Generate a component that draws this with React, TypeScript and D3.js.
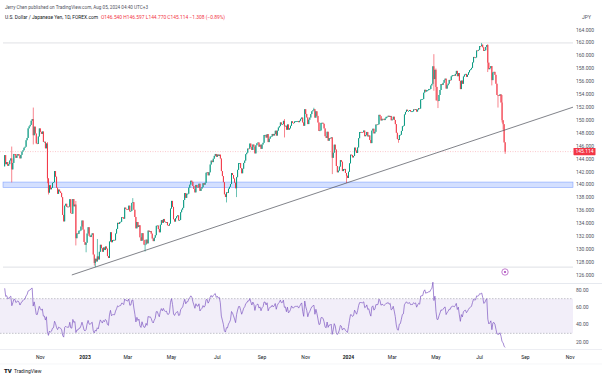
import React, { useMemo } from "react";
import * as d3 from "d3";

// ---------- DATA (USD/JPY daily) ----------
// closes used only to warm up the RSI (Aug 15 – Sep 12, 2022), not drawn as candles
const warmupCloses = [
  133.31, 134.24, 135.08, 135.89, 137.0, 137.48, 136.75, 137.16, 136.51, 137.15, 138.72, 138.75, 138.96,
  139.66, 140.2, 140.52, 142.77, 143.81, 144.08, 142.57, 142.83,
];

// daily closes, Sep 13 2022 – Dec 30 2022
const closes2022 = [
  // Sep
  144.57, 143.17, 143.49, 142.92, 143.17, 143.73, 144.06, 142.36, 143.36, 144.75, 144.74, 144.15, 144.47, 144.74,
  // Oct
  144.54, 144.07, 144.61, 145.12, 145.33, 145.72, 145.87, 146.88, 147.23, 148.72, 149.03, 149.26, 149.9, 150.16,
  147.65, 148.98, 147.91, 146.38, 146.31, 147.46, 148.7,
  // Nov
  148.18, 147.86, 148.23, 146.62, 146.64, 145.63, 146.38, 140.97, 138.76, 139.9, 139.28, 139.52, 140.28, 140.38,
  142.1, 141.23, 139.52, 138.58, 139.23, 138.95, 138.72, 138.06,
  // Dec
  135.31, 134.31, 136.74, 137.03, 136.56, 136.59, 136.58, 137.74, 135.58, 135.5, 137.77, 136.64, 136.91, 131.7,
  132.44, 132.38, 132.86, 132.89, 133.51, 134.44, 133.03, 131.12,
];

const closes2023 = [
  // Jan
  130.68, 131.0, 132.43, 133.4, 132.08, 131.88, 132.23, 132.46, 129.17, 127.87, 128.52, 128.1, 128.88, 128.41,
  129.6, 130.68, 130.15, 129.61, 130.26, 129.87, 130.41, 130.09,
  // Feb
  128.93, 128.64, 131.19, 132.62, 131.08, 131.42, 131.44, 131.38, 132.42, 133.14, 134.08, 133.92, 134.18, 134.24,
  134.95, 134.92, 134.72, 136.44, 136.24, 136.2,
  // Mar
  136.13, 136.74, 135.85, 135.92, 137.17, 137.28, 136.11, 134.99, 133.23, 134.21, 133.43, 133.71, 131.84, 131.3,
  132.48, 131.44, 130.7, 130.73, 131.48, 130.9, 132.88, 132.69, 132.81,
  // Apr
  132.41, 131.65, 131.25, 131.78, 132.17, 133.62, 133.66, 133.11, 132.62, 133.79, 134.5, 134.09, 134.68, 134.25,
  134.14, 134.21, 133.71, 133.66, 133.96, 136.29,
  // May
  137.48, 136.55, 134.64, 134.28, 134.8, 135.09, 135.24, 134.45, 134.53, 135.72, 136.12, 136.4, 137.62, 138.7,
  137.95, 138.59, 138.59, 139.53, 139.99, 140.61, 140.43, 139.79, 139.32,
  // Jun
  138.8, 139.95, 139.61, 139.57, 140.14, 139.03, 139.38, 139.61, 140.22, 139.99, 140.29, 141.84, 141.93, 141.44,
  141.91, 143.12, 143.72, 143.49, 144.02, 144.45, 144.75, 144.31,
  // Jul
  144.66, 144.45, 144.64, 144.04, 142.1, 141.32, 140.38, 138.5, 138.08, 138.8, 138.73, 139.37, 139.67, 140.09,
  141.8, 141.49, 140.94, 140.3, 139.44, 141.15, 142.29,
  // Aug
  143.33, 143.34, 142.56, 141.76, 142.46, 143.36, 143.72, 144.71, 144.94, 145.58, 145.56, 146.36, 145.84, 145.37,
  146.21, 145.89, 144.84, 146.1, 146.41, 146.53, 145.88, 146.18, 145.54,
  // Sep
  146.22, 146.48, 147.69, 147.7, 147.29, 147.83, 146.59, 147.12, 147.44, 147.47, 147.85, 147.61, 147.86, 148.35,
  147.6, 148.37, 148.85, 149.06, 149.63, 149.33, 149.37,
  // Oct
  149.88, 149.04, 149.12, 148.51, 149.32, 148.52, 148.72, 149.12, 149.8, 149.57, 149.54, 149.78, 149.82, 149.82,
  149.86, 149.68, 149.9, 150.2, 150.39, 149.64, 149.12, 151.68,
  // Nov
  150.95, 150.41, 149.38, 150.05, 150.39, 150.93, 151.36, 151.51, 151.68, 150.38, 151.36, 150.65, 149.63, 148.31,
  148.39, 149.56, 149.58, 149.43, 148.71, 147.5, 147.24, 148.19,
  // Dec
  146.8, 147.21, 147.17, 147.33, 144.16, 144.95, 146.19, 145.43, 142.89, 141.91, 142.17, 142.8, 143.8, 143.55,
  142.1, 142.42, 142.43, 141.8, 141.38, 141.03,
];

const closes2024 = [
  // Jan
  142.0, 143.3, 144.64, 144.6, 144.22, 144.44, 145.73, 145.29, 144.9, 145.76, 147.19, 148.15, 148.16, 148.14,
  148.12, 148.38, 147.5, 147.67, 148.16, 147.47, 147.62, 146.91,
  // Feb
  146.43, 148.37, 148.66, 147.94, 148.18, 149.31, 149.28, 149.35, 150.81, 150.6, 149.94, 150.19, 150.14, 150.0,
  150.27, 150.5, 150.51, 150.67, 150.49, 150.64, 149.97,
  // Mar
  150.1, 150.52, 150.02, 149.37, 148.03, 147.06, 146.92, 147.67, 147.73, 148.32, 149.04, 149.13, 150.87, 151.26,
  151.6, 151.42, 151.42, 151.55, 151.33, 151.35, 151.35,
  // Apr
  151.65, 151.57, 151.67, 151.32, 151.62, 151.85, 151.78, 153.17, 153.23, 153.27, 154.24, 154.69, 154.42, 154.64,
  154.64, 154.82, 154.82, 155.36, 155.61, 158.33, 156.35, 157.78,
  // May
  155.14, 153.03, 152.96, 153.89, 154.66, 155.58, 155.45, 155.77, 156.2, 156.42, 154.88, 155.4, 155.65, 156.22,
  156.18, 156.78, 156.95, 156.96, 156.87, 157.15, 157.62, 156.8, 157.28,
  // Jun
  156.08, 154.8, 156.12, 155.63, 156.75, 157.05, 157.15, 156.7, 157.02, 157.4, 157.73, 157.86, 158.09, 158.93,
  159.78, 159.68, 159.7, 160.78, 160.75, 160.88,
  // Jul
  161.47, 161.45, 161.68, 161.28, 160.7, 160.82, 161.33, 161.63, 158.9, 157.88, 158.06, 158.37, 156.19, 157.38,
  157.47, 157.01, 155.63, 153.89, 153.84, 153.77, 153.99, 152.72, 149.98,
  // Aug
  149.36, 146.54, 145.114,
];

// notable wicks (high / low)
const wickDates = [
  "2022-09-22", "2022-10-21", "2022-11-10", "2022-11-11", "2022-12-20", "2023-01-03", "2023-01-13", "2023-01-16",
  "2023-01-18", "2023-03-08", "2023-03-24", "2023-07-14", "2023-07-28", "2023-10-03", "2023-11-13", "2023-12-07",
  "2023-12-28", "2024-03-11", "2024-04-29", "2024-05-01", "2024-05-03", "2024-07-03", "2024-07-11", "2024-07-17",
  "2024-07-25", "2024-07-31", "2024-08-01", "2024-08-05",
];
const wickHighs = [
  145.9, 151.94, 146.59, null, 137.47, null, null, null, 131.58, 137.91, null, null, 141.2, 150.16, 151.91, null,
  null, null, 160.21, 157.99, null, 161.95, 161.76, null, null, 153.88, null, 146.597,
];
const wickLows = [
  140.35, 146.23, 140.22, 138.47, 130.58, 129.52, 127.46, 127.22, null, null, 129.64, 137.24, 138.07, 147.31, null,
  141.63, 140.25, 146.49, 154.54, 153.04, 151.86, null, 157.44, 155.37, 151.94, 149.62, 148.51, 144.77,
];

const priceTicks = [164, 162, 160, 158, 156, 154, 152, 150, 148, 146, 144, 142, 140, 138, 136, 134, 132, 130, 128, 126];
const rsiTicks = [80, 60, 40, 20];
const rsiBands = [70, 30];
const timeTickDates = [
  "2022-11-01", "2023-01-02", "2023-03-01", "2023-05-01", "2023-07-03", "2023-09-01", "2023-11-01",
  "2024-01-02", "2024-03-01", "2024-05-01", "2024-07-01", "2024-09-02", "2024-11-01",
];
const timeTickLabels = ["Nov", "2023", "Mar", "May", "Jul", "Sep", "Nov", "2024", "Mar", "May", "Jul", "Sep", "Nov"];

const zonePrices = [140.4, 139.55];
const levelLines = [161.95, 127.22];
const trendAnchorDates = ["2023-01-16", "2023-12-28"];
const trendAnchorPrices = [127.22, 140.25];
const trendStartDate = "2022-12-14";

const headerLine1 = "Jerry Chen published on TradingView.com, Aug 05, 2024 04:40 UTC+3";
const headerSymbol = "U.S. Dollar / Japanese Yen, 1D, FOREX.com";
const headerOHLC = "O146.540 H146.597 L144.770 C145.114 \u22121.308 (\u22120.89%)";
const lastPriceLabel = "145.114";

// ---------- LAYOUT ----------
const W = 602;
const H = 378;
const PLOT_R = 573;
const FONT = "Roboto, 'Liberation Sans', Arial, sans-serif";
const UP = "#089981";
const DOWN = "#f23645";

function wilderRsi(values: number[], period = 14): (number | null)[] {
  const out: (number | null)[] = values.map(() => null);
  let g = 0;
  let l = 0;
  for (let i = 1; i <= period; i++) {
    const ch = values[i] - values[i - 1];
    if (ch > 0) g += ch;
    else l -= ch;
  }
  g /= period;
  l /= period;
  out[period] = l === 0 ? 100 : 100 - 100 / (1 + g / l);
  for (let i = period + 1; i < values.length; i++) {
    const ch = values[i] - values[i - 1];
    g = (g * (period - 1) + Math.max(ch, 0)) / period;
    l = (l * (period - 1) + Math.max(-ch, 0)) / period;
    out[i] = l === 0 ? 100 : 100 - 100 / (1 + g / l);
  }
  return out;
}

export default function App() {
  const m = useMemo(() => {
    const fmt = d3.utcFormat("%Y-%m-%d");
    const cal: string[] = [];
    const end = new Date(Date.UTC(2024, 10, 29));
    for (let d = new Date(Date.UTC(2022, 8, 13)); d <= end; d = d3.utcDay.offset(d, 1)) {
      const dow = d.getUTCDay();
      if (dow === 0 || dow === 6) continue;
      const mo = d.getUTCMonth();
      const dd = d.getUTCDate();
      if ((mo === 11 && dd === 25) || (mo === 0 && dd === 1)) continue;
      cal.push(fmt(d));
    }
    const idx = new Map<string, number>();
    cal.forEach((s, i) => idx.set(s, i));

    const closes = [...closes2022, ...closes2023, ...closes2024];
    const wmap = new Map<string, [number | null, number | null]>();
    wickDates.forEach((d, i) => wmap.set(d, [wickHighs[i], wickLows[i]]));

    const candles = closes.map((c, i) => {
      const o = i === 0 ? warmupCloses[warmupCloses.length - 1] : closes[i - 1];
      const w = wmap.get(cal[i]);
      let h = Math.max(o, c);
      let l = Math.min(o, c);
      if (w) {
        if (w[0] != null) h = Math.max(h, w[0]);
        if (w[1] != null) l = Math.min(l, w[1]);
      }
      return { i, o, c, h, l };
    });

    const all = [...warmupCloses, ...closes];
    const rsiAll = wilderRsi(all);
    const rsi = closes.map((_, i) => rsiAll[i + warmupCloses.length] as number);

    const x = d3.scaleLinear().domain([0, 556]).range([4.7, 570.2]);
    const y = d3.scaleLinear().domain([126, 164]).range([275, 29.7]);
    const ry = d3.scaleLinear().domain([20, 80]).range([342, 290]);

    return { cal, idx, candles, rsi, x, y, ry };
  }, []);

  const { idx, candles, rsi, x, y, ry } = m;

  const rsiPath = d3
    .line<number>()
    .x((_, i) => x(i))
    .y((v) => ry(v))(rsi) as string;

  // trendline
  const ta = idx.get(trendAnchorDates[0])!;
  const tb = idx.get(trendAnchorDates[1])!;
  const slope = (trendAnchorPrices[1] - trendAnchorPrices[0]) / (tb - ta);
  const ts = idx.get(trendStartDate)!;
  const tEnd = x.invert(PLOT_R);
  const tPrice = (i: number) => trendAnchorPrices[0] + (i - ta) * slope;

  const lastClose = closes2024[closes2024.length - 1];
  const lastY = y(lastClose);

  return (
    <svg
      width={W}
      height={H}
      style={{ position: "fixed", left: 0, top: 0, background: "#fff" }}
      fontFamily={FONT}
    >
      <rect x={0} y={0} width={W} height={H} fill="#fff" />

      {/* header */}
      <text x={5} y={8.5} fontSize={5.2} fill="#50535e" textLength={143} lengthAdjust="spacingAndGlyphs">
        {headerLine1}
      </text>
      <text x={5} y={18.5} fontSize={5.2} fill="#131722" textLength={93} lengthAdjust="spacingAndGlyphs">
        {headerSymbol}
      </text>
      <text x={101} y={18.5} fontSize={5.2} fill={DOWN} textLength={124} lengthAdjust="spacingAndGlyphs">
        {headerOHLC}
      </text>
      <text x={582} y={18.5} fontSize={5} fill="#50535e">
        JPY
      </text>

      {/* pane separators */}
      <line x1={0} x2={W} y1={283.5} y2={283.5} stroke="#e0e3eb" strokeWidth={0.8} />
      <line x1={0} x2={W} y1={349.5} y2={349.5} stroke="#e0e3eb" strokeWidth={0.6} />
      <line x1={0} x2={W} y1={364} y2={364} stroke="#eef0f4" strokeWidth={0.6} />

      {/* horizontal levels */}
      {levelLines.map((p) => (
        <line key={p} x1={3} x2={PLOT_R} y1={y(p)} y2={y(p)} stroke="#c9ccd4" strokeWidth={0.6} />
      ))}

      {/* support zone */}
      <rect
        x={3}
        width={PLOT_R - 3}
        y={y(zonePrices[0])}
        height={y(zonePrices[1]) - y(zonePrices[0])}
        fill="rgba(41,98,255,0.2)"
        stroke="rgba(41,98,255,0.5)"
        strokeWidth={0.6}
      />

      {/* last price line */}
      <line x1={0} x2={PLOT_R} y1={lastY} y2={lastY} stroke={DOWN} strokeOpacity={0.55} strokeWidth={0.5} strokeDasharray="1,1.5" />

      {/* candles */}
      {candles.map((d) => {
        const col = d.c >= d.o ? UP : DOWN;
        const cx = x(d.i);
        const top = y(Math.max(d.o, d.c));
        const bot = y(Math.min(d.o, d.c));
        return (
          <g key={d.i}>
            <rect x={cx - 0.3} width={0.6} y={y(d.h)} height={Math.max(0.5, y(d.l) - y(d.h))} fill={col} />
            <rect x={cx - 0.5} width={1.0} y={top} height={Math.max(0.7, bot - top)} fill={col} />
          </g>
        );
      })}

      {/* trendline */}
      <line
        x1={x(ts)}
        y1={y(tPrice(ts))}
        x2={x(tEnd)}
        y2={y(tPrice(tEnd))}
        stroke="#4a4d57"
        strokeWidth={0.7}
      />

      {/* event marker */}
      <circle cx={505} cy={272} r={3.2} fill="#fff" stroke="#ab47bc" strokeWidth={0.7} />
      <circle cx={505} cy={272} r={1.1} fill="#ab47bc" />

      {/* price axis */}
      {priceTicks.map((p) => (
        <text key={p} x={576} y={y(p) + 1.8} fontSize={5} fill="#50535e">
          {p.toFixed(3)}
        </text>
      ))}
      <rect x={573.5} y={lastY - 3.6} width={22} height={7.2} fill={DOWN} rx={0.6} />
      <text x={584.5} y={lastY + 1.8} fontSize={5} fill="#fff" textAnchor="middle">
        {lastPriceLabel}
      </text>

      {/* RSI pane */}
      <rect x={0} width={PLOT_R} y={ry(rsiBands[0])} height={ry(rsiBands[1]) - ry(rsiBands[0])} fill="rgba(126,87,194,0.1)" />
      {rsiBands.map((b) => (
        <line key={b} x1={0} x2={PLOT_R} y1={ry(b)} y2={ry(b)} stroke="#8a8d99" strokeWidth={0.5} strokeDasharray="1.5,1.5" />
      ))}
      <path d={rsiPath} fill="none" stroke="#7e57c2" strokeWidth={0.7} />
      {rsiTicks.map((t) => (
        <text key={t} x={576} y={ry(t) + 1.8} fontSize={5} fill="#50535e">
          {t.toFixed(2)}
        </text>
      ))}

      {/* time axis */}
      {timeTickDates.map((d, i) => {
        const ix = idx.get(d)!;
        const isYear = /^\d{4}$/.test(timeTickLabels[i]);
        return (
          <text
            key={d}
            x={x(ix)}
            y={359}
            fontSize={5}
            fill="#131722"
            textAnchor="middle"
            fontWeight={isYear ? 700 : 400}
          >
            {timeTickLabels[i]}
          </text>
        );
      })}

      {/* TradingView logo */}
      <text x={4} y={373} fontSize={6} fontWeight={900} fill="#131722">
        TV
      </text>
      <text x={14} y={372.8} fontSize={5} fill="#131722">
        TradingView
      </text>
    </svg>
  );
}
